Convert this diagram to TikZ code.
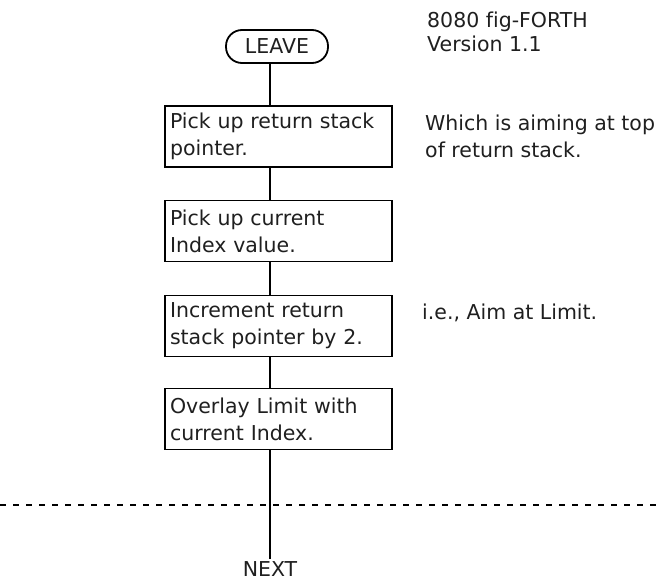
\documentclass[tikz,border=0pt]{standalone}
\usepackage{fontspec}
\setmainfont{DejaVu Sans}[Ligatures={NoCommon}]
\begin{document}
\begin{tikzpicture}[x=1pt,y=-1pt,
  every node/.style={font=\fontsize{20.5}{27}\selectfont, text=black!88},
  stepbox/.style={draw=black, line width=1.8pt, minimum width=227pt, minimum height=61pt,
    text width=217pt, inner xsep=5pt, align=left},
  term/.style={draw=black, line width=1.8pt, rounded corners=16pt, minimum width=102pt,
    minimum height=33pt, inner sep=2pt},
  note/.style={anchor=west, align=left, inner sep=0pt},
  link/.style={line width=1.8pt},
  sep/.style={line width=1.8pt, dash pattern=on 6pt off 7pt}]
\useasboundingbox (0,0) rectangle (660,581);
\coordinate (spine) at (270,0);
\node[term] (leave) at (277,46.5) {LEAVE};
\node[stepbox] (b1) at (278.5,136.5) {Pick up return stack\\pointer.};
\node[stepbox] (b2) at (278.5,231) {Pick up current\\Index value.};
\node[stepbox] (b3) at (278.5,326) {Increment return\\stack pointer by 2.};
\node[stepbox] (b4) at (278.5,419) {Overlay Limit with\\current Index.};
\node[inner sep=2pt] (next) at (270,569) {NEXT};
\node[anchor=base west, inner sep=0pt] (t1) at (427,27) {8080 f{}ig-FORTH};
\node[anchor=base west, inner sep=0pt] (t2) at (427,51) {Version 1.1};
\node[note] (n1) at (425,136.5) {Which is aiming at top\\of return stack.};
\node[note] (n3) at (422,312.5) {i.e., Aim at Limit.};
\draw[link] (leave.south -| spine) -- (b1.north -| spine);
\draw[link] (b1.south -| spine) -- (b2.north -| spine);
\draw[link] (b2.south -| spine) -- (b3.north -| spine);
\draw[link] (b3.south -| spine) -- (b4.north -| spine);
\draw[link] (b4.south -| spine) -- (next.north);
\coordinate (dl) at (0,505);
\coordinate (dr) at (660,505);
\draw[sep] (dl) -- (dr);
\end{tikzpicture}
\end{document}
